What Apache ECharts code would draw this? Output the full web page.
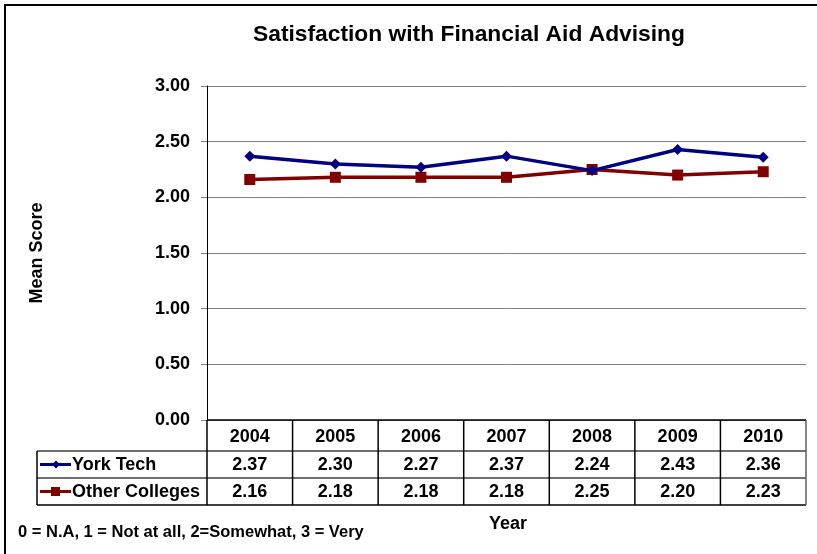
<!DOCTYPE html>
<html><head><meta charset="utf-8">
<script src="https://cdn.jsdelivr.net/npm/echarts@6/dist/echarts.min.js"></script>
<style>html,body{margin:0;padding:0;background:#fff}#c{width:817px;height:554px}</style>
</head><body><div id="c"></div>
<script>
const years = ['2004','2005','2006','2007','2008','2009','2010'];
const yorkTech = [2.37, 2.30, 2.27, 2.37, 2.24, 2.43, 2.36];
const otherColleges = [2.16, 2.18, 2.18, 2.18, 2.25, 2.20, 2.23];
const seriesNames = ['York Tech', 'Other Colleges'];

const FONT = '"Liberation Sans", Arial, sans-serif';
const colors = ['#000080', '#800000'];
const G = {left: 207, right: 817 - 806, top: 86, bottom: 554 - 420};

const chart = echarts.init(document.getElementById('c'));
const option = {
  animation: false,
  backgroundColor: '#fff',
  title: {text: 'Satisfaction with Financial Aid Advising', left: 248, top: 18,
    textStyle: {fontFamily: FONT, fontSize: 22.8, fontWeight: 'bold', color: '#000'}},
  grid: G,
  xAxis: {type: 'category', data: years, boundaryGap: true,
    axisLine: {show: false}, axisTick: {show: false}, axisLabel: {show: false}, splitLine: {show: false}},
  yAxis: {type: 'value', min: 0, max: 3, interval: 0.5,
    axisLine: {show: true, lineStyle: {color: '#000', width: 1}},
    axisTick: {show: true, length: 6, lineStyle: {color: '#808080'}},
    axisLabel: {fontFamily: FONT, fontSize: 18, fontWeight: 'bold', color: '#000', margin: 17,
      formatter: v => v.toFixed(2)},
    splitLine: {show: true, lineStyle: {color: '#808080', width: 1}},
    name: 'Mean Score', nameLocation: 'middle', nameGap: 161, nameRotate: 90,
    nameTextStyle: {fontFamily: FONT, fontSize: 18, fontWeight: 'bold', color: '#000'}},
  series: [
    {name: seriesNames[0], type: 'line', data: yorkTech, symbol: 'diamond', symbolSize: 11,
      lineStyle: {color: colors[0], width: 3.5}, itemStyle: {color: colors[0]}, z: 3},
    {name: seriesNames[1], type: 'line', data: otherColleges, symbol: 'rect', symbolSize: 11,
      lineStyle: {color: colors[1], width: 3.5}, itemStyle: {color: colors[1]}, z: 2}
  ]
};
chart.setOption(option);

const bw = (817 - G.left - G.right) / years.length;
const x0 = G.left, x1 = 817 - G.right;
const rowTops = [420, 451, 478, 505];
const els = [];
const txt = (x, y, s, align, size) => ({type: 'text', x: x, y: y, z: 10,
  style: {text: s, fill: '#000', font: 'bold ' + (size || 18) + 'px ' + FONT, textAlign: align || 'center', textVerticalAlign: 'middle'}});
const line = (xa, ya, xb, yb, c, w) => ({type: 'line', z: 9, shape: {x1: xa, y1: ya, x2: xb, y2: yb}, style: {stroke: c, lineWidth: w || 1}});
els.push(line(x0, rowTops[1], x1, rowTops[1], '#404040', 1.5));
els.push(line(37, rowTops[1], x0, rowTops[1], '#404040', 1.5));
els.push(line(37, rowTops[2], x1, rowTops[2], '#404040', 1.5));
els.push(line(37, rowTops[3], x1, rowTops[3], '#000', 1.5));
els.push(line(x0, 420, x1, 420, '#000', 1.5));
els.push(line(37, rowTops[1], 37, rowTops[3], '#000', 1.5));
for (let i = 0; i <= years.length; i++) {
  const x = x0 + i * bw;
  els.push(line(x, 420, x, rowTops[3], i === years.length ? '#606060' : '#000', 1.5));
}
const rowsData = [yorkTech, otherColleges];
years.forEach((yr, i) => {
  const cx = chart.convertToPixel({xAxisIndex: 0}, i);
  els.push(txt(cx, (rowTops[0] + rowTops[1]) / 2 + 2, yr));
  rowsData.forEach((arr, r) => {
    els.push(txt(cx, (rowTops[r + 1] + rowTops[r + 2]) / 2 + 1, arr[i].toFixed(2)));
  });
});
seriesNames.forEach((n, r) => {
  const cy = (rowTops[r + 1] + rowTops[r + 2]) / 2;
  els.push(line(40, cy, 71, cy, colors[r], 3));
  if (r === 0) {
    els.push({type: 'polygon', z: 11, shape: {points: [[56, cy - 4], [60, cy], [56, cy + 4], [52, cy]]}, style: {fill: colors[r]}});
  } else {
    els.push({type: 'rect', z: 11, shape: {x: 51, y: cy - 4.5, width: 9, height: 9}, style: {fill: colors[r]}});
  }
  els.push(txt(72, cy + 1, n, 'left'));
});
els.push(txt(508, 524, 'Year', 'center', 18));
els.push(txt(18, 532, '0 = N.A, 1 = Not at all, 2=Somewhat, 3 = Very', 'left', 16.5));
els.push({type: 'rect', z: 12, shape: {x: 5, y: 5, width: 830, height: 570}, style: {fill: 'none', stroke: '#000', lineWidth: 2}});
chart.setOption({graphic: els});
</script></body></html>
